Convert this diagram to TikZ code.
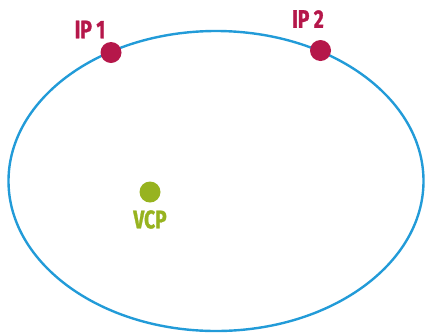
\documentclass[tikz,border=0pt]{standalone}
\usepackage{fontspec}
\setmainfont{Fira Sans}[FakeStretch=0.75,BoldFeatures={FakeBold=1.2}]
\definecolor{ringblue}{HTML}{229BD8}
\definecolor{ipred}{HTML}{B5174A}
\definecolor{vcpgreen}{HTML}{97B31F}

\begin{document}
\begin{tikzpicture}[x=1pt,y=-1pt,dot/.style={circle,fill,inner sep=0pt,minimum size=21pt},label/.style={font=\fontsize{25.5}{25.5}\selectfont\bfseries,inner sep=0pt}]
\useasboundingbox (0,0) rectangle (425,333);
\draw[ringblue,line width=2.4pt] (216,181) ellipse [x radius=207.5pt, y radius=150pt];
\node[dot,ipred] (ip1) at (111,52.5) {};
\node[dot,ipred] (ip2) at (320.5,50.5) {};
\node[dot,vcpgreen] (vcp) at (150,192) {};
\node[label,text=ipred] (ip1label) at (90,29.5) {IP 1};
\node[label,text=ipred] (ip2label) at (308,19) {IP 2};
\node[label,text=vcpgreen] (vcplabel) at (150,219.5) {VCP};
\end{tikzpicture}
\end{document}
